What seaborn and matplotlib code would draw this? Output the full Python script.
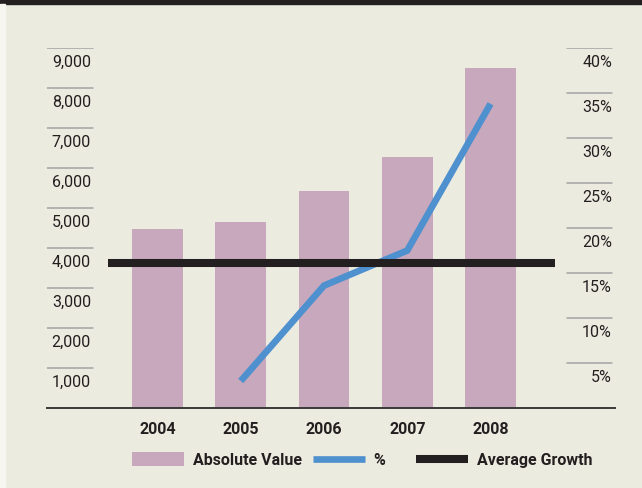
import matplotlib
matplotlib.use("Agg")
import matplotlib.pyplot as plt
from matplotlib.patches import Patch, Rectangle
from matplotlib.lines import Line2D
import seaborn as sns
import pandas as pd

# data
years = ["2004", "2005", "2006", "2007", "2008"]
abs_values = [4475, 4650, 5425, 6275, 8500]
pct_years = ["2005", "2006", "2007", "2008"]
pct_values = [3.0, 13.6, 17.5, 33.8]
avg_growth = 16.1
left_ticks = [1000, 2000, 3000, 4000, 5000, 6000, 7000, 8000, 9000]
right_ticks = [5, 10, 15, 20, 25, 30, 35, 40]

BG = "#ECEBE0"
PINK = "#C8A8BC"
BLUE = "#4F90CF"
BLACK = "#231F20"
GRID = "#A3A3A3"

sns.set_style("white")
plt.rcParams["font.family"] = ["Roboto", "DejaVu Sans"]

fig = plt.figure(figsize=(6.42, 4.88), dpi=100)
fig.patch.set_facecolor(BG)
# top black band and thin light strip on the left
fig.patches.append(Rectangle((0, 1 - 4 / 488), 1, 4 / 488, transform=fig.transFigure,
                             color=BLACK, zorder=0))
fig.patches.append(Rectangle((0, 0), 5 / 642, 1 - 4 / 488, transform=fig.transFigure,
                             color="#F6F5EF", zorder=0))

ax = fig.add_axes([47 / 642, 1 - 408 / 488, 568 / 642, 360 / 488])
ax.set_facecolor("none")

df = pd.DataFrame({"year": years, "value": abs_values})
sns.barplot(data=df, x="year", y="value", color=PINK, saturation=1, width=0.61,
            edgecolor="none", linewidth=0, ax=ax, zorder=2)

ax2 = ax.twinx()
ax2.set_facecolor("none")
pos = [years.index(y) for y in pct_years]
sns.lineplot(x=pos, y=pct_values, color=BLUE, lw=4.8, ax=ax2, zorder=3,
             solid_capstyle="butt", solid_joinstyle="miter")
ax2.axhline(avg_growth, xmin=61 / 568, xmax=508 / 568, color=BLACK, lw=5.8,
            solid_capstyle="butt", zorder=4)

ax.set_xlim(-1.327, 5.495)
ax2.set_xlim(-1.327, 5.495)
ax.set_ylim(0, 9000)
ax2.set_ylim(0, 40)

for a in (ax, ax2):
    for s in ["left", "right", "top", "bottom"]:
        a.spines[s].set_visible(False)
    a.set_yticks([])
    a.set_ylabel("")
ax.spines["bottom"].set_visible(True)
ax.spines["bottom"].set_color("#3A3A3A")
ax.spines["bottom"].set_linewidth(1.4)
ax.set_xlabel("")
ax.tick_params(axis="x", length=0, pad=10, labelsize=11.5)
for t in ax.get_xticklabels():
    t.set_fontweight("bold")
    t.set_color(BLACK)

# short tick rules with labels sitting under them
for v in left_ticks:
    ax.axhline(v, xmin=0, xmax=46 / 568, color=GRID, lw=1.1)
    ax.text(44 / 568, v - 360, f"{v:,}", transform=ax.get_yaxis_transform(),
            ha="right", va="center", fontsize=11.5, color=BLACK)
for v in right_ticks:
    ax2.axhline(v, xmin=520 / 568, xmax=565 / 568, color=GRID, lw=1.1)
    ax2.text(565 / 568, v - 1.6, f"{v}%", transform=ax2.get_yaxis_transform(),
             ha="right", va="center", fontsize=11.5, color=BLACK)

# legend, one entry at a time so the gaps match
entries = [
    (Patch(facecolor=PINK, edgecolor="none"), "Absolute Value", 132),
    (Line2D([], [], color=BLUE, lw=4.8, solid_capstyle="butt"), "%", 313),
    (Line2D([], [], color=BLACK, lw=5.8, solid_capstyle="butt"), "Average Growth", 416),
]
for handle, label, x0 in entries:
    leg = fig.legend([handle], [label], loc="center left",
                     bbox_to_anchor=(x0 / 642, 1 - 460 / 488), frameon=False,
                     borderpad=0, borderaxespad=0, handlelength=3.25,
                     handleheight=0.9, handletextpad=0.55,
                     prop={"weight": "bold", "size": 11.5})
    for t in leg.get_texts():
        t.set_color(BLACK)

fig.savefig("out.png", dpi=100, facecolor=BG)
